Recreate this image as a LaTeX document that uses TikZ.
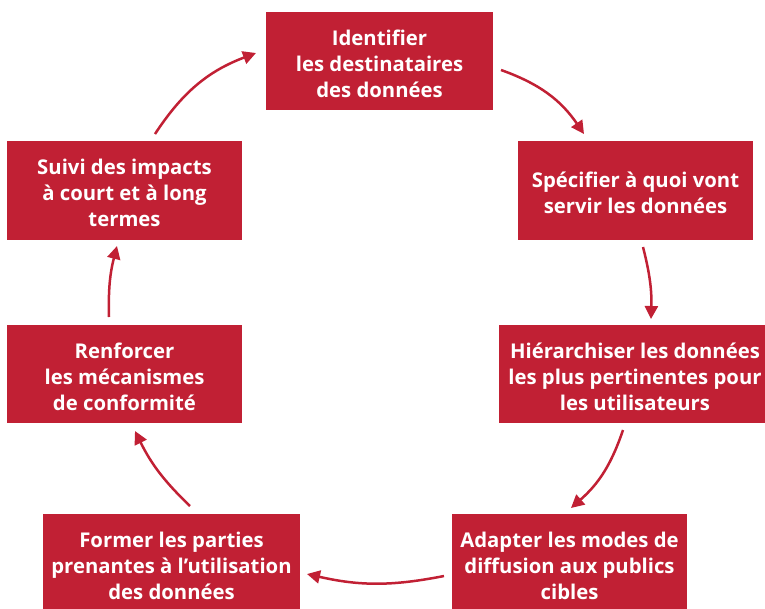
\documentclass[tikz,border=0pt]{standalone}
\usepackage{fontspec}
\setmainfont{Open Sans}
\usetikzlibrary{arrows.meta}
\definecolor{boxred}{RGB}{193,32,52}
\begin{document}
\begin{tikzpicture}[x=1pt,y=-1pt,
  box/.style={fill=boxred,draw=none,text=white,align=center,inner sep=0pt,
    font=\fontsize{20.3}{26}\selectfont\bfseries},
  arr/.style={draw=boxred,line width=2.5pt,-{Triangle[length=13pt,width=13pt]}}]
\useasboundingbox (0,0) rectangle (765,608);
% boxes
\fill[boxred] (266,12) rectangle (493,110);
\node[box] (b1) at (379.5,64) {Identifier\\les destinataires\\des données};
\fill[boxred] (518,141) rectangle (753,240);
\node[box] (b2) at (635.5,193) {Spécifier à quoi vont\\servir les données};
\fill[boxred] (499,325) rectangle (770,423);
\node[box] (b3) at (635,377) {Hiérarchiser les données\\les plus pertinentes pour\\les utilisateurs};
\fill[boxred] (452,514) rectangle (687,615);
\node[box] (b4) at (569.5,566) {Adapter les modes de\\diffusion aux publics\\cibles};
\fill[boxred] (43,514) rectangle (300,615);
\node[box] (b5) at (171.5,566) {Former les parties\\prenantes à l’utilisation\\des données};
\fill[boxred] (7,325) rectangle (242,423);
\node[box] (b6) at (124.5,377) {Renforcer\\les mécanismes\\de conformité};
\fill[boxred] (7,141) rectangle (242,240);
\node[box] (b7) at (124.5,193) {Suivi des impacts\\à court et à long\\termes};
% arrow end points
\coordinate (a1s) at (501,70);  \coordinate (a1e) at (584,134);
\coordinate (a2s) at (643,247); \coordinate (a2e) at (651,319);
\coordinate (a3s) at (623,430); \coordinate (a3e) at (571,508);
\coordinate (a4s) at (444,576); \coordinate (a4e) at (307,574);
\coordinate (a5s) at (190,506); \coordinate (a5e) at (135,431);
\coordinate (a6s) at (109,317); \coordinate (a6e) at (117,246);
\coordinate (a7s) at (155,134); \coordinate (a7e) at (256,53);
\draw[arr] (a1s) to[bend left=18] (a1e);
\draw[arr] (a2s) to[bend left=8] (a2e);
\draw[arr] (a3s) to[bend left=15] (a3e);
\draw[arr] (a4s) to[bend left=12] (a4e);
\draw[arr] (a5s) to[bend left=10] (a5e);
\draw[arr] (a6s) to[bend left=8] (a6e);
\draw[arr] (a7s) to[bend left=18] (a7e);
\end{tikzpicture}
\end{document}
